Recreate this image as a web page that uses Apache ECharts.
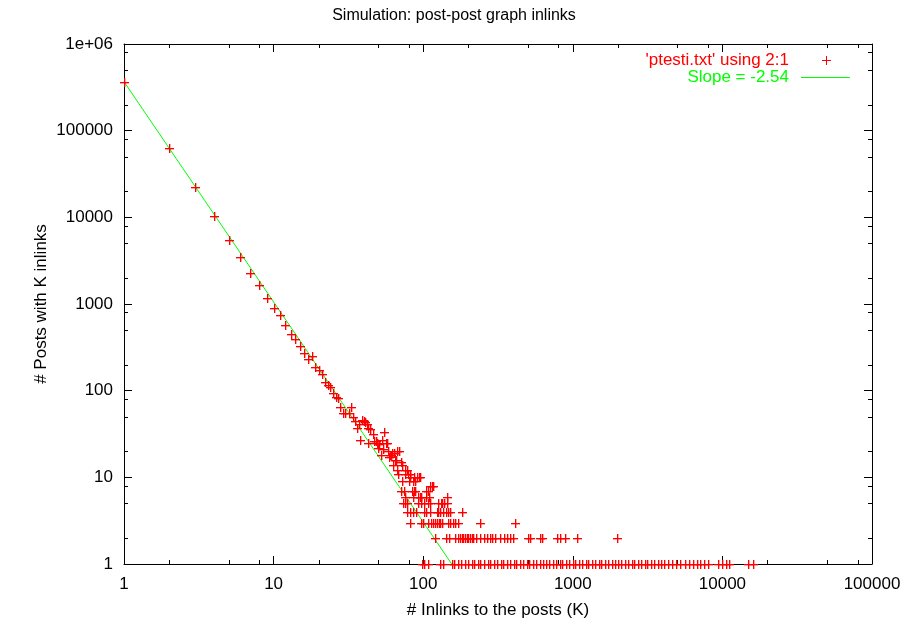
<!DOCTYPE html>
<html><head><meta charset="utf-8">
<script src="https://cdn.jsdelivr.net/npm/echarts@6/dist/echarts.min.js"></script>
<style>html,body{margin:0;padding:0;background:#fff}#c{width:908px;height:624px}</style>
</head><body><div id="c"></div>
<script>
const titleText = 'Simulation: post-post graph inlinks';
const xName = '# Inlinks to the posts (K)';
const yName = '# Posts with K inlinks';
const legendDataText = "'ptesti.txt' using 2:1";
const legendFitText = 'Slope = -2.54';
const xTicks = [1, 10, 100, 1000, 10000, 100000];
const xTickLabels = ['1', '10', '100', '1000', '10000', '100000'];
const yTicks = [1, 10, 100, 1000, 10000, 100000, 1000000];
const yTickLabels = ['1', '10', '100', '1000', '10000', '100000', '1e+06'];
const minorMultipliers = [2, 5, 8];

// K = 1..28, one count each
const headK = [1,2,3,4,5,6,7,8,9,10,11,12,13,14,15,16,17,18,19,20,21,22,23,24,25,26,27,28];
const headCount = [364000,63000,22200,10400,5470,3460,2260,1670,1170,890,740,567,451,392,327,270,230,251,186,173,156,127,116,111,93,85,82,64];
// scattered middle section [K, count]
const midPoints = [[29,55],[30,55],[32,55],[33,64],[34,50],[35,45],[36,37],[37,41],[39,46],[40,45],[41,43],[42,41],[43,37],[44,36],[46,32],[38,27],[42.5,25],[47,26],[48,26],[49,25],[53,27],[51,24],[55,33],[56,25],[57,25],[50,22],[54,21],[58,20],[60,18],[62,19],[64,19],[67,20],[69,20],[52,18],[61,18],[59,17],[65,16],[66,16],[71,15],[63,14],[72,14],[66.5,12],[68,11],[75,11],[76,12],[78,12],[81,11],[79,11]];
// K values per low count
const count10K = [81, 87, 91, 94, 95];
const count9K = [72, 80, 86, 88];
const count8K = [111, 114, 117];
const count7K = [71, 74, 84, 86.5, 88, 104, 108];
const count6K = [76, 85, 92, 95, 97, 105, 110, 144];
const count5K = [73, 75, 78, 92, 96, 102, 108, 111, 126, 131, 133, 137, 144];
const count4K = [78, 81, 86, 90, 102, 105, 111, 123, 125, 130, 136, 141, 147, 151, 181];
const count3K = [81, 96, 100, 108, 112, 117, 120, 123, 127, 130, 133, 147, 151, 159, 163, 172, 240, 410];
const count2K = [120, 143, 149, 163, 172, 176, 181, 185, 190, 195, 200, 206, 211, 216, 226, 240, 253, 268, 279, 290, 302, 326, 345, 361, 380, 400, 504, 520, 604, 625, 781, 821, 887, 1062, 1965];
const count1K = [98, 102, 108, 130, 136, 155, 161, 172, 179, 190, 198, 211, 219, 232, 241, 256, 270, 281, 298, 310, 330, 344, 365, 379, 403, 419, 445, 463, 492, 512, 545, 567, 602, 628, 667, 694, 736, 768, 815, 850, 901, 940, 996, 1040, 1102, 1150, 1220, 1272, 1350, 1405, 1493, 1555, 1650, 1720, 1826, 1903, 2020, 2105, 2235, 2328, 2472, 2575, 2735, 2850, 3025, 3150, 3345, 3485, 3700, 3860, 4100, 4330, 4600, 4900, 5200, 5640, 5990, 6370, 6770, 7060, 7500, 7970, 9400, 9980, 10600, 11100, 14800, 16000];
// fitted power law end points (slope -2.54)
const fitLine = [[1, 367000], [155, 1]];

const points = [];
headK.forEach((k, i) => points.push([k, headCount[i]]));
midPoints.forEach(p => points.push(p));
[[10, count10K], [9, count9K], [8, count8K], [7, count7K], [6, count6K], [5, count5K], [4, count4K], [3, count3K], [2, count2K], [1, count1K]]
  .forEach(([c, ks]) => ks.forEach(k => points.push([k, c])));

const xMinor = [], yMinor = [];
xTicks.slice(0, -1).forEach(t => minorMultipliers.forEach(m => xMinor.push([t * m, 1])));
yTicks.slice(0, -1).forEach(t => minorMultipliers.forEach(m => yMinor.push([1, t * m])));

const FONT = 'Liberation Sans, Arial, Helvetica, sans-serif';
const RED = '#ff0000', HALO = 'rgba(255,0,0,0.35)', GREEN = '#00ff00';
const lab = (labels) => v => { const i = Math.round(Math.log10(v)); return labels[i] !== undefined ? labels[i] : ''; };
const bar = (x, y, w, h, color) => ({type: 'rect', shape: {x: x, y: y, width: w, height: h}, style: {fill: color, stroke: null}});

const chart = echarts.init(document.getElementById('c'), null, {renderer: 'canvas'});
const axisCommon = {
  type: 'log', logBase: 10,
  axisLine: {show: true, lineStyle: {color: '#000', width: 1}},
  axisTick: {show: true, inside: true, length: 8, lineStyle: {color: '#000', width: 1}},
  splitLine: {show: false}, minorTick: {show: false}
};
chart.setOption({
  animation: false,
  backgroundColor: '#fff',
  title: {text: titleText, left: 'center', top: 3, textStyle: {fontFamily: FONT, fontSize: 16, fontWeight: 'normal', color: '#000'}},
  grid: {left: 124, right: 36, top: 44, bottom: 60, containLabel: false},
  xAxis: [
    Object.assign({}, axisCommon, {min: 1, max: 100000, position: 'bottom',
      axisLabel: {formatter: lab(xTickLabels), margin: 12, fontFamily: FONT, fontSize: 17, color: '#000', showMinLabel: true, showMaxLabel: true},
      name: xName, nameLocation: 'middle', nameGap: 38, nameMoveOverlap: false, nameTextStyle: {fontFamily: FONT, fontSize: 17, color: '#000'}}),
    Object.assign({}, axisCommon, {min: 1, max: 100000, position: 'top', axisLabel: {show: false}})
  ],
  yAxis: [
    Object.assign({}, axisCommon, {min: 1, max: 1000000, position: 'left',
      axisLabel: {formatter: lab(yTickLabels), margin: 11, fontFamily: FONT, fontSize: 17, color: '#000', showMinLabel: true, showMaxLabel: true},
      name: yName, nameLocation: 'middle', nameGap: 74, nameRotate: 90, nameMoveOverlap: false, nameTextStyle: {fontFamily: FONT, fontSize: 17, color: '#000'}}),
    Object.assign({}, axisCommon, {min: 1, max: 1000000, position: 'right', axisLabel: {show: false}})
  ],
  series: [
    {type: 'custom', silent: true, data: xMinor, xAxisIndex: 0, yAxisIndex: 0,
      renderItem(params, api) {
        const cs = params.coordSys; const p = api.coord([api.value(0), api.value(1)]);
        const x = Math.round(p[0]), b = Math.round(cs.y + cs.height), t = Math.round(cs.y);
        return {type: 'group', children: [bar(x, b - 4, 1, 4, '#000'), bar(x, t, 1, 4, '#000')]};
      }},
    {type: 'custom', silent: true, data: yMinor, xAxisIndex: 0, yAxisIndex: 0,
      renderItem(params, api) {
        const cs = params.coordSys; const p = api.coord([api.value(0), api.value(1)]);
        const y = Math.round(p[1]), l = Math.round(cs.x), r = Math.round(cs.x + cs.width);
        return {type: 'group', children: [bar(l, y, 4, 1, '#000'), bar(r - 4, y, 4, 1, '#000')]};
      }},
    {type: 'line', data: fitLine, showSymbol: false, symbol: 'none', lineStyle: {color: GREEN, width: 1}, silent: true, z: 3},
    {type: 'custom', silent: true, data: points, z: 4,
      renderItem(params, api) {
        const p = api.coord([api.value(0), api.value(1)]);
        const x = Math.round(p[0]), y = Math.round(p[1]);
        return {type: 'group', children: [
          bar(x - 4, y + 1, 9, 1, HALO), bar(x + 1, y - 4, 1, 9, HALO),
          bar(x - 4, y, 9, 1, RED), bar(x, y - 4, 1, 9, RED)]};
      }}
  ],
  graphic: [
    {type: 'text', x: 789, y: 60, style: {text: legendDataText, fill: RED, font: '17px ' + FONT, textAlign: 'right', textVerticalAlign: 'middle'}},
    {type: 'rect', shape: {x: 822, y: 60, width: 9, height: 1}, style: {fill: RED}},
    {type: 'rect', shape: {x: 826, y: 56, width: 1, height: 9}, style: {fill: RED}},
    {type: 'text', x: 789, y: 77, style: {text: legendFitText, fill: GREEN, font: '17px ' + FONT, textAlign: 'right', textVerticalAlign: 'middle'}},
    {type: 'rect', shape: {x: 801, y: 77, width: 49, height: 1}, style: {fill: GREEN}}
  ]
});
</script></body></html>
